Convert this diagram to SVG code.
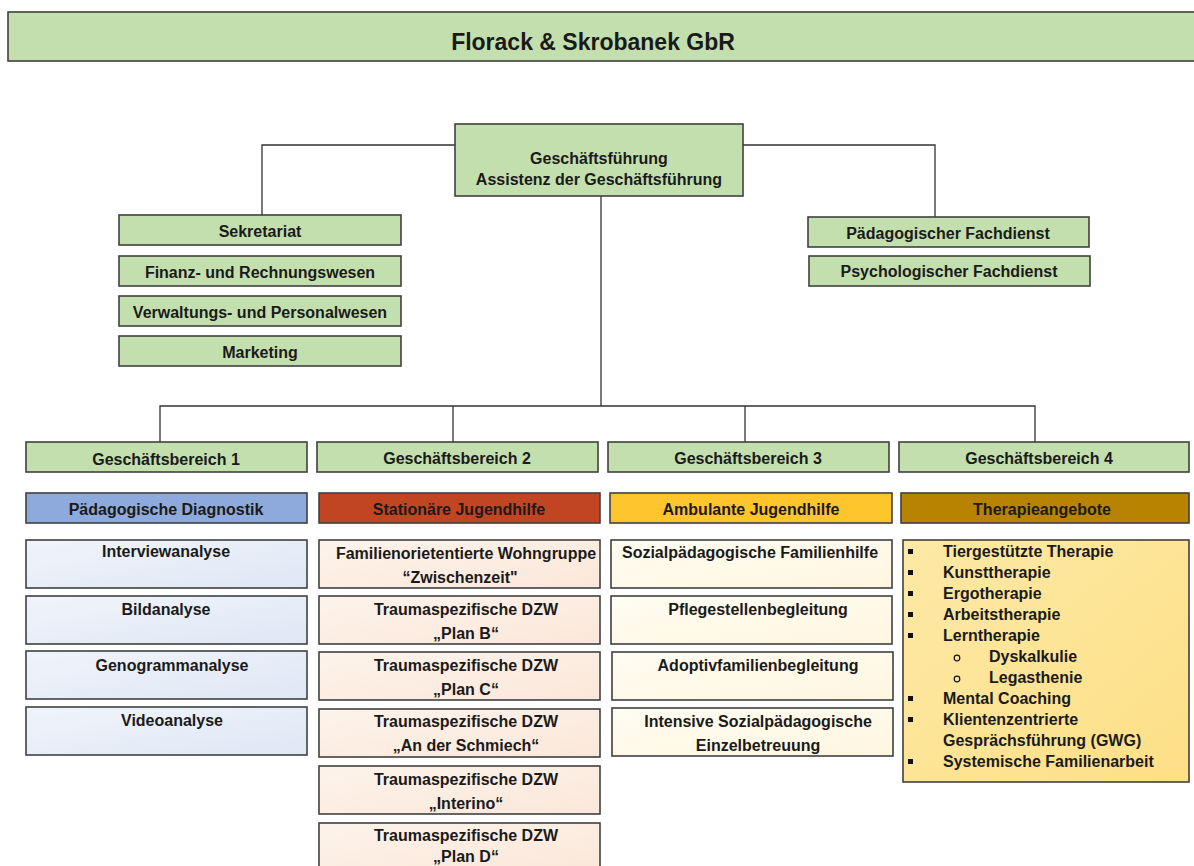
<svg xmlns="http://www.w3.org/2000/svg" width="1194" height="866" viewBox="0 0 1194 866">
<defs>
<linearGradient id="gBlue" x1="0" y1="0" x2="1" y2="1"><stop offset="0" stop-color="#f0f4fb"/><stop offset="1" stop-color="#dfe7f5"/></linearGradient>
<linearGradient id="gPeach" x1="0" y1="0" x2="1" y2="1"><stop offset="0" stop-color="#fdf3ea"/><stop offset="1" stop-color="#fbe7da"/></linearGradient>
<linearGradient id="gCream" x1="0" y1="0" x2="1" y2="1"><stop offset="0" stop-color="#fffcf2"/><stop offset="1" stop-color="#fff6e0"/></linearGradient>
<linearGradient id="gYel" x1="0" y1="0" x2="1" y2="1"><stop offset="0" stop-color="#fde9a6"/><stop offset="1" stop-color="#fddf86"/></linearGradient>
</defs>
<style>
.box{stroke:#404040;stroke-width:1.6}
.green{fill:#c3dfae}
.t{font-family:"Liberation Sans",Arial,sans-serif;font-weight:bold;font-size:16px;fill:#1a1a1a;text-anchor:middle}
.tl{font-family:"Liberation Sans",Arial,sans-serif;font-weight:bold;font-size:16px;fill:#1a1a1a}
.conn{stroke:#333;stroke-width:1.3;fill:none}
</style>
<rect width="1194" height="866" fill="#fff"/>
<g id="title"><rect class="box green" x="8" y="12" width="1192" height="49"/><text class="t" x="593" y="50" style="font-size:23px">Florack &amp; Skrobanek GbR</text></g>
<g id="connectors">
<path class="conn" d="M455 145H262V215"/>
<path class="conn" d="M743 145H935V217"/>
<path class="conn" d="M601 196V406"/>
<path class="conn" d="M160 442V406H1035V442"/>
<path class="conn" d="M453 406V442"/>
<path class="conn" d="M745 406V442"/>
</g>
<g id="gf"><rect class="box green" x="455" y="124" width="288" height="72"/><text class="t" x="599" y="164">Geschäftsführung</text><text class="t" x="599" y="185">Assistenz der Geschäftsführung</text></g>
<g id="sekretariat"><rect class="box green" x="119" y="215" width="282" height="30"/><text class="t" x="260" y="237">Sekretariat</text></g>
<g id="finanz"><rect class="box green" x="119" y="256" width="282" height="30"/><text class="t" x="260" y="278">Finanz- und Rechnungswesen</text></g>
<g id="verwaltung"><rect class="box green" x="119" y="296" width="282" height="30"/><text class="t" x="260" y="318">Verwaltungs- und Personalwesen</text></g>
<g id="marketing"><rect class="box green" x="119" y="336" width="282" height="30"/><text class="t" x="260" y="358">Marketing</text></g>
<g id="paed-fd"><rect class="box green" x="808" y="217" width="281" height="30"/><text class="t" x="948" y="239">Pädagogischer Fachdienst</text></g>
<g id="psych-fd"><rect class="box green" x="809" y="256" width="281" height="30"/><text class="t" x="949" y="277">Psychologischer Fachdienst</text></g>
<g id="gb1"><rect class="box green" x="26" y="442" width="281" height="30"/><text class="t" x="166" y="465">Geschäftsbereich 1</text></g>
<g id="gb2"><rect class="box green" x="317" y="442" width="281" height="30"/><text class="t" x="457" y="464">Geschäftsbereich 2</text></g>
<g id="gb3"><rect class="box green" x="608" y="442" width="281" height="30"/><text class="t" x="748" y="464">Geschäftsbereich 3</text></g>
<g id="gb4"><rect class="box green" x="899" y="442" width="290" height="30"/><text class="t" x="1039" y="464">Geschäftsbereich 4</text></g>
<g id="h1"><rect class="box" fill="#8eaadc" x="26" y="493" width="281" height="30"/><text class="t" x="166" y="515">Pädagogische Diagnostik</text></g>
<g id="h2"><rect class="box" fill="#c24523" x="319" y="493" width="281" height="30"/><text class="t" x="459" y="515">Stationäre Jugendhilfe</text></g>
<g id="h3"><rect class="box" fill="#ffc52d" x="610" y="493" width="282" height="30"/><text class="t" x="751" y="515">Ambulante Jugendhilfe</text></g>
<g id="h4"><rect class="box" fill="#b88300" x="901" y="493" width="288" height="30"/><text class="t" x="1042" y="515">Therapieangebote</text></g>
<g id="c1a"><rect class="box" fill="url(#gBlue)" x="26" y="540" width="281" height="48"/><text class="t" x="166" y="557">Interviewanalyse</text></g>
<g id="c1b"><rect class="box" fill="url(#gBlue)" x="26" y="596" width="281" height="48"/><text class="t" x="166" y="615">Bildanalyse</text></g>
<g id="c1c"><rect class="box" fill="url(#gBlue)" x="26" y="651" width="281" height="48"/><text class="t" x="172" y="671">Genogrammanalyse</text></g>
<g id="c1d"><rect class="box" fill="url(#gBlue)" x="26" y="707" width="281" height="48"/><text class="t" x="172" y="726">Videoanalyse</text></g>
<g id="c2a"><rect class="box" fill="url(#gPeach)" x="319" y="540" width="281" height="48"/><text class="t" x="466" y="559">Familienorietentierte Wohngruppe</text><text class="t" x="460" y="583">“Zwischenzeit"</text></g>
<g id="c2b"><rect class="box" fill="url(#gPeach)" x="319" y="596" width="281" height="48"/><text class="t" x="466" y="615">Traumaspezifische DZW</text><text class="t" x="466" y="639">„Plan B“</text></g>
<g id="c2c"><rect class="box" fill="url(#gPeach)" x="319" y="652" width="281" height="48"/><text class="t" x="466" y="671">Traumaspezifische DZW</text><text class="t" x="466" y="695">„Plan C“</text></g>
<g id="c2d"><rect class="box" fill="url(#gPeach)" x="319" y="709" width="281" height="48"/><text class="t" x="466" y="727">Traumaspezifische DZW</text><text class="t" x="466" y="751">„An der Schmiech“</text></g>
<g id="c2e"><rect class="box" fill="url(#gPeach)" x="319" y="766" width="281" height="48"/><text class="t" x="466" y="785">Traumaspezifische DZW</text><text class="t" x="466" y="809">„Interino“</text></g>
<g id="c2f"><rect class="box" fill="url(#gPeach)" x="319" y="823" width="281" height="48"/><text class="t" x="466" y="841">Traumaspezifische DZW</text><text class="t" x="466" y="862">„Plan D“</text></g>
<g id="c3a"><rect class="box" fill="url(#gCream)" x="611" y="540" width="281" height="48"/><text class="t" x="750" y="558">Sozialpädagogische Familienhilfe</text></g>
<g id="c3b"><rect class="box" fill="url(#gCream)" x="611" y="596" width="281" height="48"/><text class="t" x="758" y="615">Pflegestellenbegleitung</text></g>
<g id="c3c"><rect class="box" fill="url(#gCream)" x="612" y="652" width="281" height="48"/><text class="t" x="758" y="671">Adoptivfamilienbegleitung</text></g>
<g id="c3d"><rect class="box" fill="url(#gCream)" x="612" y="708" width="281" height="48"/><text class="t" x="758" y="727">Intensive Sozialpädagogische</text><text class="t" x="758" y="751">Einzelbetreuung</text></g>
<g id="c4"><rect class="box" fill="url(#gYel)" x="903" y="540" width="286" height="242"/>
<g fill="#111"><rect x="908" y="549" width="5" height="5"/><rect x="908" y="570" width="5" height="5"/><rect x="908" y="591" width="5" height="5"/><rect x="908" y="612" width="5" height="5"/><rect x="908" y="633" width="5" height="5"/><rect x="908" y="696" width="5" height="5"/><rect x="908" y="717" width="5" height="5"/><rect x="908" y="759" width="5" height="5"/></g>
<g fill="none" stroke="#111" stroke-width="1.2"><circle cx="957" cy="658" r="2.8"/><circle cx="957" cy="679" r="2.8"/></g>
<text class="tl" x="943" y="557">Tiergestützte Therapie</text>
<text class="tl" x="943" y="578">Kunsttherapie</text>
<text class="tl" x="943" y="599">Ergotherapie</text>
<text class="tl" x="943" y="620">Arbeitstherapie</text>
<text class="tl" x="943" y="641">Lerntherapie</text>
<text class="tl" x="989" y="662">Dyskalkulie</text>
<text class="tl" x="989" y="683">Legasthenie</text>
<text class="tl" x="943" y="704">Mental Coaching</text>
<text class="tl" x="943" y="725">Klientenzentrierte</text>
<text class="tl" x="943" y="746">Gesprächsführung (GWG)</text>
<text class="tl" x="943" y="767">Systemische Familienarbeit</text>
</g>
</svg>
